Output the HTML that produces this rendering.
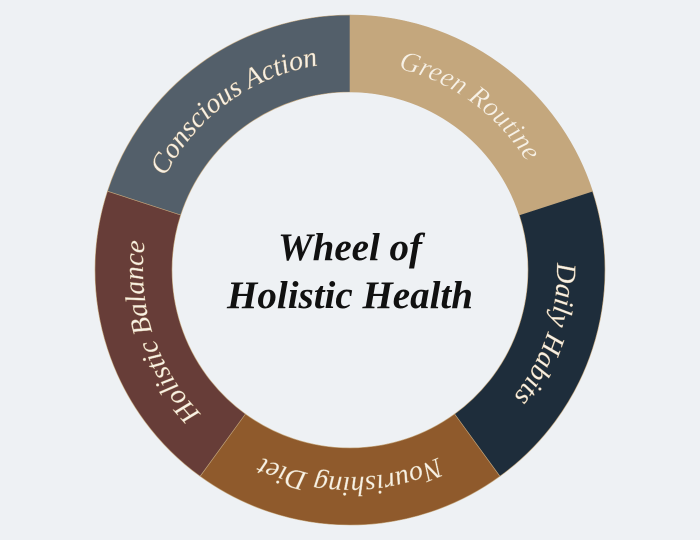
<!DOCTYPE html>
<html><head><meta charset="utf-8"><style>
html,body{margin:0;padding:0;background:#eef1f4;}
svg{display:block}
</style></head><body>
<svg width="700" height="540" viewBox="0 0 700 540" xmlns="http://www.w3.org/2000/svg">
<rect width="700" height="540" fill="#eef1f4"/>
<g stroke="#c4a77d" stroke-width="0.6">
<path d="M350,15 A255,255 0 0 1 592.5,191.2 L519.3,215 A178,178 0 0 0 350,92 Z" fill="#c4a77d"/>
<path d="M592.5,191.2 A255,255 0 0 1 499.9,476.3 L454.6,414 A178,178 0 0 0 519.3,215 Z" fill="#1e2d3b"/>
<path d="M499.9,476.3 A255,255 0 0 1 200.1,476.3 L245.4,414 A178,178 0 0 0 454.6,414 Z" fill="#8f5a2c"/>
<path d="M200.1,476.3 A255,255 0 0 1 107.5,191.2 L180.7,215 A178,178 0 0 0 245.4,414 Z" fill="#673d38"/>
<path d="M107.5,191.2 A255,255 0 0 1 350,15 L350,92 A178,178 0 0 0 180.7,215 Z" fill="#535f6a"/>
</g>
<defs>
<path id="a1" d="M350,63 A207,207 0 0 1 546.9,206"/>
<path id="a2" d="M546.9,206 A207,207 0 0 1 471.7,437.5"/>
<path id="a3" d="M471.7,437.5 A207,207 0 0 1 228.3,437.5"/>
<path id="a4" d="M228.3,437.5 A207,207 0 0 1 153.1,206"/>
<path id="a5" d="M153.1,206 A207,207 0 0 1 350,63"/>
</defs>
<g font-family="Liberation Serif, serif" font-style="italic" font-size="28" fill="#f7f1e6" stroke="#c4a77d" stroke-width="0.3" text-anchor="middle">
<text><textPath href="#a1" startOffset="50%">Green Routine</textPath></text>
<text><textPath href="#a2" startOffset="50%">Daily Habits</textPath></text>
<text><textPath href="#a3" startOffset="50%">Nourishing Diet</textPath></text>
<text><textPath href="#a4" startOffset="50%">Holistic Balance</textPath></text>
<text><textPath href="#a5" startOffset="50%">Conscious Action</textPath></text>
</g>
<g font-family="Liberation Serif, serif" font-style="italic" font-weight="bold" font-size="39" fill="#111" text-anchor="middle">
<text x="350" y="260">Wheel of</text>
<text x="350" y="308">Holistic Health</text>
</g>
</svg>
</body></html>
